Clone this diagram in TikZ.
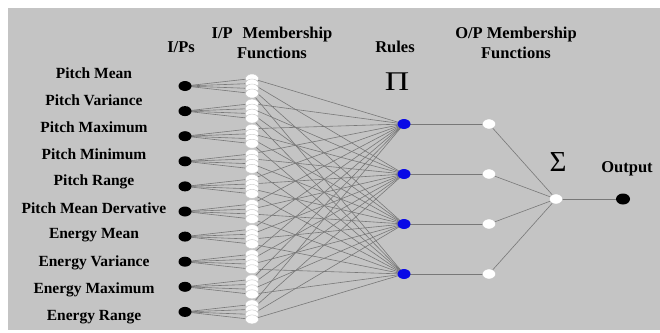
\documentclass[tikz,border=0pt]{standalone}
\usepackage{fontspec}
\setmainfont{Liberation Serif}
\usetikzlibrary{shapes.geometric}
\pgfdeclarelayer{bg}
\pgfdeclarelayer{edges}
\pgfsetlayers{bg,edges,main}
\definecolor{bggray}{RGB}{196,196,196}
\definecolor{linegray}{RGB}{120,120,120}
\definecolor{ruleblue}{RGB}{10,10,230}
\begin{document}
\begin{tikzpicture}[x=1pt,y=-1pt,
  lbl/.style={font=\fontsize{15.5}{16}\selectfont\bfseries, inner sep=0},
  hdr/.style={font=\fontsize{16.5}{20}\selectfont\bfseries, inner sep=0, align=center},
  indot/.style={ellipse, fill=black, minimum width=13, minimum height=10, inner sep=0},
  mfnode/.style={ellipse, fill=white, draw=gray!45, line width=0.4pt, minimum width=13, minimum height=9, inner sep=0},
  rulenode/.style={ellipse, fill=ruleblue, minimum width=13, minimum height=10, inner sep=0},
  opnode/.style={ellipse, fill=white, draw=gray!50, line width=0.3pt, minimum width=13, minimum height=10, inner sep=0},
  outdot/.style={ellipse, fill=black, minimum width=14, minimum height=11, inner sep=0},
  conn/.style={draw=linegray, line width=0.6pt}
]
\useasboundingbox (0,0) rectangle (660,332);
\begin{pgfonlayer}{bg}
  \fill[bggray] (8,8) rectangle (660,330);
\end{pgfonlayer}

% input labels
\foreach \t [count=\i from 0] in {Pitch Mean,Pitch Variance,Pitch Maximum,Pitch Minimum,Pitch Range,Pitch Mean Dervative,Energy Mean,Energy Variance,Energy Maximum,Energy Range}{
  \node[lbl] (lab\i) at (94,{73+27.1*\i}) {\t};
}

% headers
\node[hdr] (hin) at (181,47) {I/Ps};
\node[hdr] (hmf) at (272,43) {I/P\hspace{0.6em}Membership\\Functions};
\node[hdr] (hrule) at (395,47) {Rules};
\node[hdr] (hop) at (516,43) {O/P Membership\\Functions};
\node[inner sep=0, font=\fontsize{27}{27}\selectfont, xscale=1.25] (pisym) at (397,82) {Π};
\node[inner sep=0, font=\fontsize{29}{29}\selectfont] (sigsym) at (558,162) {Σ};
\node[hdr] (hout) at (627,169) {Output};

% inputs and MFs
\foreach \i in {0,...,9}{
  \node[indot] (in\i) at (185,{86+25.1*\i}) {};
  \foreach \j/\o in {1/-7.5,2/-2.5,3/2.5,4/7.5}{
    \node[mfnode] (mf\i-\j) at (252,{86+25.1*\i+\o}) {};
  }
}

% rules and output MFs
\foreach \j in {1,...,4}{
  \node[rulenode] (r\j) at (404,{124+50*(\j-1)}) {};
  \node[opnode] (op\j) at (489,{124+50*(\j-1)}) {};
}
\node[opnode] (sum) at (556,199) {};
\node[outdot] (out) at (623,199) {};

\begin{pgfonlayer}{edges}
  \foreach \i in {0,...,9}{
    \foreach \j in {1,...,4}{
      \draw[conn] (in\i.center) -- (mf\i-\j.center);
      \draw[conn] (mf\i-\j.center) -- (r\j.center);
    }
  }
  \foreach \j in {1,...,4}{
    \draw[conn] (r\j.center) -- (op\j.center);
    \draw[conn] (op\j.center) -- (sum.center);
  }
  \draw[conn] (sum.center) -- (out.center);
\end{pgfonlayer}
\end{tikzpicture}
\end{document}
